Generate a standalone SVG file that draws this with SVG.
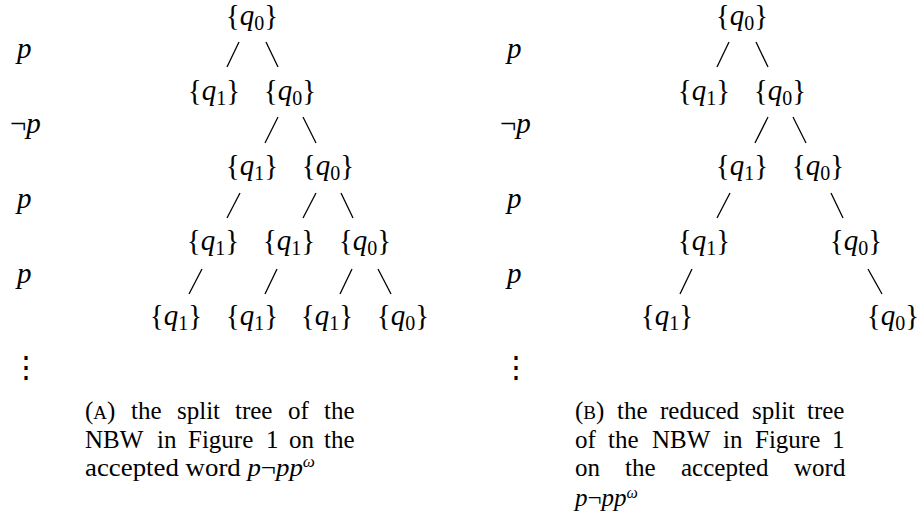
<svg xmlns="http://www.w3.org/2000/svg" width="921" height="514" viewBox="0 0 921 514">
<style>
text { font-family: "Liberation Serif", "Times New Roman", serif; fill: #000; }
.n { font-size: 29px; text-anchor: middle; }
.l { font-size: 29px; }
.i { font-style: italic; }
.s { font-size: 20px; }
.cap { font-size: 25px; }
.sc { font-size: 19px; }
.sup { font-size: 16px; font-style: italic; }
.vd { font-family: "DejaVu Serif", serif; font-size: 30px; text-anchor: middle; fill: #000; }
#connectors line { stroke: #000; stroke-width: 1.3; stroke-linecap: butt; }
</style>
<rect width="921" height="514" fill="#fff"/>

<g id="connectors">
  <line x1="239" y1="42" x2="227" y2="67"/>
  <line x1="266" y1="42" x2="278" y2="67"/>
  <line x1="278" y1="117" x2="265" y2="143"/>
  <line x1="303" y1="117" x2="316" y2="143"/>
  <line x1="240" y1="193" x2="227" y2="218"/>
  <line x1="316" y1="193" x2="303" y2="218"/>
  <line x1="341" y1="193" x2="353" y2="218"/>
  <line x1="202" y1="269" x2="189" y2="294"/>
  <line x1="277" y1="269" x2="265" y2="294"/>
  <line x1="352" y1="269" x2="340" y2="294"/>
  <line x1="378" y1="269" x2="391" y2="294"/>
  <line x1="729" y1="42" x2="717" y2="67"/>
  <line x1="756" y1="42" x2="768" y2="67"/>
  <line x1="768" y1="117" x2="755" y2="143"/>
  <line x1="793" y1="117" x2="806" y2="143"/>
  <line x1="730" y1="193" x2="717" y2="218"/>
  <line x1="831" y1="193" x2="843" y2="218"/>
  <line x1="692" y1="269" x2="680" y2="294"/>
  <line x1="868" y1="269" x2="882" y2="294"/>
</g>

<g id="tree-a">
  <g id="a-r0-q0"><text class="n" x="252" y="25">{<tspan class="i">q</tspan><tspan class="s" dy="5">0</tspan><tspan dy="-5">}</tspan></text></g>
  <g id="a-r1-q1"><text class="n" x="214" y="100">{<tspan class="i">q</tspan><tspan class="s" dy="5">1</tspan><tspan dy="-5">}</tspan></text></g>
  <g id="a-r1-q0"><text class="n" x="290" y="100">{<tspan class="i">q</tspan><tspan class="s" dy="5">0</tspan><tspan dy="-5">}</tspan></text></g>
  <g id="a-r2-q1"><text class="n" x="252" y="175">{<tspan class="i">q</tspan><tspan class="s" dy="5">1</tspan><tspan dy="-5">}</tspan></text></g>
  <g id="a-r2-q0"><text class="n" x="328" y="175">{<tspan class="i">q</tspan><tspan class="s" dy="5">0</tspan><tspan dy="-5">}</tspan></text></g>
  <g id="a-r3-q1a"><text class="n" x="213" y="250">{<tspan class="i">q</tspan><tspan class="s" dy="5">1</tspan><tspan dy="-5">}</tspan></text></g>
  <g id="a-r3-q1b"><text class="n" x="289" y="250">{<tspan class="i">q</tspan><tspan class="s" dy="5">1</tspan><tspan dy="-5">}</tspan></text></g>
  <g id="a-r3-q0"><text class="n" x="365" y="250">{<tspan class="i">q</tspan><tspan class="s" dy="5">0</tspan><tspan dy="-5">}</tspan></text></g>
  <g id="a-r4-q1a"><text class="n" x="176" y="325">{<tspan class="i">q</tspan><tspan class="s" dy="5">1</tspan><tspan dy="-5">}</tspan></text></g>
  <g id="a-r4-q1b"><text class="n" x="252" y="325">{<tspan class="i">q</tspan><tspan class="s" dy="5">1</tspan><tspan dy="-5">}</tspan></text></g>
  <g id="a-r4-q1c"><text class="n" x="327" y="325">{<tspan class="i">q</tspan><tspan class="s" dy="5">1</tspan><tspan dy="-5">}</tspan></text></g>
  <g id="a-r4-q0"><text class="n" x="403" y="325">{<tspan class="i">q</tspan><tspan class="s" dy="5">0</tspan><tspan dy="-5">}</tspan></text></g>
</g>

<g id="labels-a">
  <text class="l i" x="17" y="58">p</text>
  <text class="l" x="10" y="133">¬<tspan class="i">p</tspan></text>
  <text class="l i" x="17" y="208">p</text>
  <text class="l i" x="17" y="283">p</text>
  <text class="vd" x="26" y="377">⋮</text>
</g>

<g id="tree-b">
  <g id="b-r0-q0"><text class="n" x="742" y="25">{<tspan class="i">q</tspan><tspan class="s" dy="5">0</tspan><tspan dy="-5">}</tspan></text></g>
  <g id="b-r1-q1"><text class="n" x="704" y="100">{<tspan class="i">q</tspan><tspan class="s" dy="5">1</tspan><tspan dy="-5">}</tspan></text></g>
  <g id="b-r1-q0"><text class="n" x="780" y="100">{<tspan class="i">q</tspan><tspan class="s" dy="5">0</tspan><tspan dy="-5">}</tspan></text></g>
  <g id="b-r2-q1"><text class="n" x="742" y="175">{<tspan class="i">q</tspan><tspan class="s" dy="5">1</tspan><tspan dy="-5">}</tspan></text></g>
  <g id="b-r2-q0"><text class="n" x="818" y="175">{<tspan class="i">q</tspan><tspan class="s" dy="5">0</tspan><tspan dy="-5">}</tspan></text></g>
  <g id="b-r3-q1"><text class="n" x="704" y="250">{<tspan class="i">q</tspan><tspan class="s" dy="5">1</tspan><tspan dy="-5">}</tspan></text></g>
  <g id="b-r3-q0"><text class="n" x="856" y="250">{<tspan class="i">q</tspan><tspan class="s" dy="5">0</tspan><tspan dy="-5">}</tspan></text></g>
  <g id="b-r4-q1"><text class="n" x="667" y="325">{<tspan class="i">q</tspan><tspan class="s" dy="5">1</tspan><tspan dy="-5">}</tspan></text></g>
  <g id="b-r4-q0"><text class="n" x="893" y="325">{<tspan class="i">q</tspan><tspan class="s" dy="5">0</tspan><tspan dy="-5">}</tspan></text></g>
</g>

<g id="labels-b">
  <text class="l i" x="507" y="58">p</text>
  <text class="l" x="500" y="133">¬<tspan class="i">p</tspan></text>
  <text class="l i" x="507" y="208">p</text>
  <text class="l i" x="507" y="283">p</text>
  <text class="vd" x="516" y="377">⋮</text>
</g>

<g id="caption-a">
  <text class="cap" y="419"><tspan x="85">(<tspan class="sc">A</tspan>)</tspan><tspan x="131">the</tspan><tspan x="177">split</tspan><tspan x="235">tree</tspan><tspan x="288">of</tspan><tspan x="324">the</tspan></text>
  <text class="cap" y="447.5"><tspan x="85">NBW</tspan><tspan x="157">in</tspan><tspan x="188">Figure</tspan><tspan x="266">1</tspan><tspan x="289">on</tspan><tspan x="324">the</tspan></text>
  <text class="cap" x="85" y="476" textLength="230" lengthAdjust="spacingAndGlyphs">accepted word <tspan class="i">p</tspan>¬<tspan class="i">pp</tspan><tspan class="sup" dy="-9">ω</tspan></text>
</g>

<g id="caption-b">
  <text class="cap" y="419"><tspan x="575">(<tspan class="sc">B</tspan>)</tspan><tspan x="617">the</tspan><tspan x="660">reduced</tspan><tspan x="752">split</tspan><tspan x="807">tree</tspan></text>
  <text class="cap" y="447.5"><tspan x="575">of</tspan><tspan x="608">the</tspan><tspan x="652">NBW</tspan><tspan x="723">in</tspan><tspan x="755">Figure</tspan><tspan x="832">1</tspan></text>
  <text class="cap" y="476"><tspan x="575">on</tspan><tspan x="625">the</tspan><tspan x="681">accepted</tspan><tspan x="794">word</tspan></text>
  <text class="cap" x="575" y="506"><tspan class="i">p</tspan>¬<tspan class="i">pp</tspan><tspan class="sup" dy="-8">ω</tspan></text>
</g>
</svg>
